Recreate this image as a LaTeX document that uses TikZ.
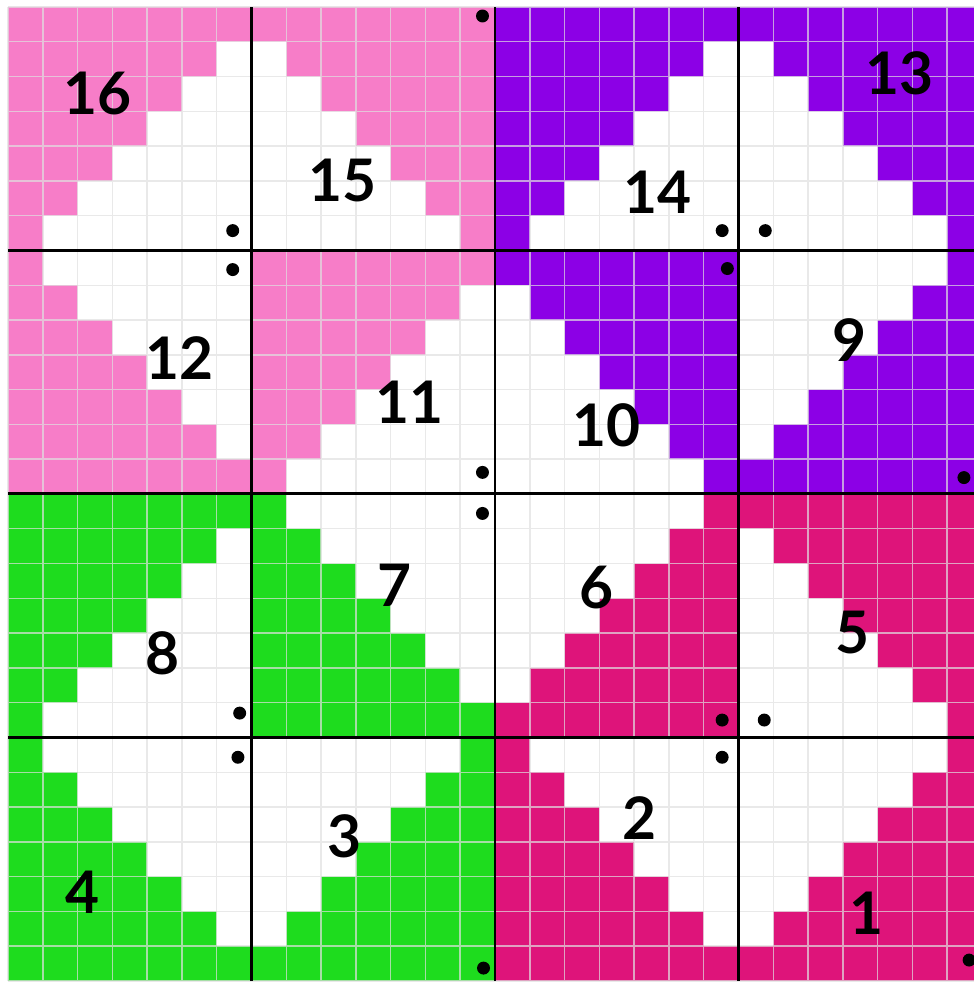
\documentclass[tikz,border=0pt]{standalone}
\usepackage{fontspec}
\setmainfont{Lato}
\definecolor{pinkc}{RGB}{247,125,200}
\definecolor{purplec}{RGB}{140,0,230}
\definecolor{greenc}{RGB}{30,220,30}
\definecolor{magc}{RGB}{222,20,122}
\tikzset{
  cellline/.style={line width=0.6pt,draw=white!88!black,opacity=0.7},
  blockline/.style={line width=1.2pt,draw=black},
  num/.style={font=\fontsize{24}{28}\selectfont\bfseries,inner sep=0pt},
  dot/.style={circle,fill=black,inner sep=0pt,minimum size=5.3pt}
}
\begin{document}
\begin{tikzpicture}[x=0.5cm,y=0.5cm]
\useasboundingbox (-0.23,-0.03) rectangle (27.77,28.2);
\clip (-0.23,-0.03) rectangle (27.77,28.2);

% top row of blocks
\fill[pinkc] (0,28) -- (7,28) |- (6,27) |- (5,26) |- (4,25) |- (3,24) |- (2,23) |- (1,22) |- (0,21) -- cycle;
\fill[pinkc] (7,28) -- (14,28) -- (14,21) -- (13,21) |- (12,22) |- (11,23) |- (10,24) |- (9,25) |- (8,26) |- (7,27) -- cycle;
\fill[purplec] (14,28) -- (21,28) |- (20,27) |- (19,26) |- (18,25) |- (17,24) |- (16,23) |- (15,22) |- (14,21) -- cycle;
\fill[purplec] (21,28) -- (28,28) -- (28,21) -- (27,21) |- (26,22) |- (25,23) |- (24,24) |- (23,25) |- (22,26) |- (21,27) -- cycle;

% second row
\fill[pinkc] (0,21) -- (1,21) |- (2,20) |- (3,19) |- (4,18) |- (5,17) |- (6,16) |- (7,15) -- (7,14) -- (0,14) -- cycle;
\fill[pinkc] (7,21) -- (14,21) |- (13,20) |- (12,19) |- (11,18) |- (10,17) |- (9,16) |- (8,15) |- (7,14) -- cycle;
\fill[purplec] (14,21) -- (21,21) -- (21,14) -- (20,14) |- (19,15) |- (18,16) |- (17,17) |- (16,18) |- (15,19) |- (14,20) -- cycle;
\fill[purplec] (28,21) -- (27,21) |- (26,20) |- (25,19) |- (24,18) |- (23,17) |- (22,16) |- (21,15) -- (21,14) -- (28,14) -- cycle;

% third row
\fill[greenc] (0,14) -- (7,14) |- (6,13) |- (5,12) |- (4,11) |- (3,10) |- (2,9) |- (1,8) |- (0,7) -- cycle;
\fill[greenc] (7,14) -- (8,14) |- (9,13) |- (10,12) |- (11,11) |- (12,10) |- (13,9) |- (14,8) -- (14,7) -- (7,7) -- cycle;
\fill[magc] (21,14) -- (20,14) |- (19,13) |- (18,12) |- (17,11) |- (16,10) |- (15,9) |- (14,8) -- (14,7) -- (21,7) -- cycle;
\fill[magc] (21,14) -- (28,14) -- (28,7) -- (27,7) |- (26,8) |- (25,9) |- (24,10) |- (23,11) |- (22,12) |- (21,13) -- cycle;

% bottom row
\fill[greenc] (0,7) -- (1,7) |- (2,6) |- (3,5) |- (4,4) |- (5,3) |- (6,2) |- (7,1) -- (7,0) -- (0,0) -- cycle;
\fill[greenc] (14,7) -- (13,7) |- (12,6) |- (11,5) |- (10,4) |- (9,3) |- (8,2) |- (7,1) -- (7,0) -- (14,0) -- cycle;
\fill[magc] (14,7) -- (15,7) |- (16,6) |- (17,5) |- (18,4) |- (19,3) |- (20,2) |- (21,1) -- (21,0) -- (14,0) -- cycle;
\fill[magc] (28,7) -- (27,7) |- (26,6) |- (25,5) |- (24,4) |- (23,3) |- (22,2) |- (21,1) -- (21,0) -- (28,0) -- cycle;

\draw[cellline,step=1] (0,0) grid (28,28);

\draw[blockline] (7,0) -- (7,28);
\draw[blockline] (14,0) -- (14,28);
\draw[blockline] (21,0) -- (21,28);
\draw[blockline] (0,7) -- (28,7);
\draw[blockline] (0,14) -- (28,14);
\draw[blockline] (0,21) -- (28,21);

\node[num] (n16) at (2.58,25.50) {16};
\node[num] (n15) at (9.62,23.00) {15};
\node[num] (n14) at (18.67,22.66) {14};
\node[num] (n13) at (25.62,26.08) {13};
\node[num] (n12) at (4.94,17.92) {12};
\node[num] (n11) at (11.55,16.63) {11};
\node[num] (n10) at (17.20,15.97) {10};
\node[num] (n9) at (24.18,18.41) {9};
\node[num] (n8) at (4.45,9.42) {8};
\node[num] (n7) at (11.11,11.37) {7};
\node[num] (n6) at (16.92,11.32) {6};
\node[num] (n5) at (24.27,10.02) {5};
\node[num] (n4) at (2.13,2.56) {4};
\node[num] (n3) at (9.68,4.16) {3};
\node[num] (n2) at (18.15,4.68) {2};
\node[num] (n1) at (24.67,1.95) {1};

\node[dot] (d16) at (6.46,21.57) {};
\node[dot] (d15) at (13.64,27.74) {};
\node[dot] (d14) at (20.53,21.57) {};
\node[dot] (d13) at (21.77,21.57) {};
\node[dot] (d12) at (6.46,20.45) {};
\node[dot] (d11) at (13.64,14.62) {};
\node[dot] (d10) at (20.68,20.48) {};
\node[dot] (d9) at (27.48,14.47) {};
\node[dot] (d8) at (6.66,7.70) {};
\node[dot] (d7) at (13.64,13.44) {};
\node[dot] (d6) at (20.53,7.50) {};
\node[dot] (d5) at (21.74,7.50) {};
\node[dot] (d4) at (6.61,6.43) {};
\node[dot] (d3) at (13.67,0.37) {};
\node[dot] (d2) at (20.53,6.43) {};
\node[dot] (d1) at (27.63,0.60) {};
\end{tikzpicture}
\end{document}
